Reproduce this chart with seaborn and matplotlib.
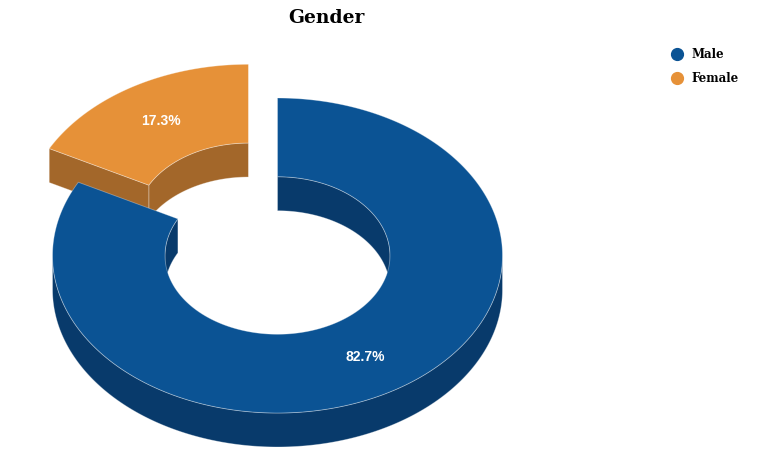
import numpy as np
import matplotlib
matplotlib.use('Agg')
import matplotlib.pyplot as plt
from matplotlib.patches import Polygon
from matplotlib.lines import Line2D
import seaborn as sns

# --- DATA ---
categories = ['Male', 'Female']
shares = [82.7, 17.3]
explode = [0.0, 0.25]

# --- STYLE ---
sns.set_theme(style='white')
top_colors = ['#0b5394', '#e69138']
side_colors = ['#083a6b', '#a3672a']

W, H = 758, 457
fig = plt.figure(figsize=(W / 100, H / 100), dpi=100)
ax = fig.add_axes([0, 0, 1, 1])
ax.set_xlim(0, W)
ax.set_ylim(H, 0)
ax.axis('off')

# donut geometry (pixel space)
cx, cy = 277.5, 255.5
rx, ry = 225.0, 157.5
inner = 0.5
depth = 34


def pt(t, r, ox, oy, dz=0.0):
    return (cx + ox + r * rx * np.cos(t), cy + oy - r * ry * np.sin(t) + dz)


def arc(t_arr, r, ox, oy, dz=0.0):
    return np.array([pt(t, r, ox, oy, dz) for t in t_arr])


def segments(t_arr, mask):
    segs, cur = [], []
    for t, m in zip(t_arr, mask):
        if m:
            cur.append(t)
        elif cur:
            segs.append(cur)
            cur = []
    if cur:
        segs.append(cur)
    return [np.array(s) for s in segs if len(s) > 1]


def wall(ts, r, ox, oy):
    top = arc(ts, r, ox, oy)
    bot = arc(ts[::-1], r, ox, oy, depth)
    return np.vstack([top, bot])


edge_kw = dict(edgecolor=(1, 1, 1, 0.35), linewidth=0.6)

# slice angles, clockwise from 12 o'clock
fracs = np.array(shares) / sum(shares)
starts = np.pi / 2 - np.concatenate([[0], np.cumsum(fracs)[:-1]]) * 2 * np.pi
ends = starts - fracs * 2 * np.pi

order = [1, 0]  # back slice first
label_pos = {}
for i in order:
    a0, a1 = starts[i], ends[i]
    mid = (a0 + a1) / 2
    ox = explode[i] * rx * np.cos(mid)
    oy = -explode[i] * ry * np.sin(mid)
    ts = np.linspace(a1, a0, 600)

    # inner wall (back half of the hole)
    for s in segments(ts, np.sin(ts) > 0):
        ax.add_patch(Polygon(wall(s, inner, ox, oy), closed=True,
                             facecolor=side_colors[i], **edge_kw))
    # cut faces
    for a, n in [(a0, a0 + np.pi / 2), (a1, a1 - np.pi / 2)]:
        if np.sin(n) < -1e-6:
            face = [pt(a, inner, ox, oy), pt(a, 1, ox, oy),
                    pt(a, 1, ox, oy, depth), pt(a, inner, ox, oy, depth)]
            ax.add_patch(Polygon(face, closed=True,
                                 facecolor=side_colors[i], **edge_kw))
    # outer wall (front half)
    for s in segments(ts, np.sin(ts) < 0):
        ax.add_patch(Polygon(wall(s, 1, ox, oy), closed=True,
                             facecolor=side_colors[i], **edge_kw))
    # top face
    top = np.vstack([arc(ts, 1, ox, oy), arc(ts[::-1], inner, ox, oy)])
    ax.add_patch(Polygon(top, closed=True, facecolor=top_colors[i], **edge_kw))

    label_pos[i] = pt(mid, (1 + inner) / 2, ox, oy)

for i, val in enumerate(shares):
    x, y = label_pos[i]
    ax.text(x, y, f'{val:.1f}%', ha='center', va='center', color='white',
            fontsize=10, fontweight='bold', family=['Liberation Sans', 'DejaVu Sans'])

fig.text(326.5 / W, 1 - 18 / H, 'Gender', ha='center', va='center', color='black',
         fontsize=13.5, fontweight='bold', family=['DejaVu Serif'])

handles = [Line2D([], [], linestyle='none', marker='o', markersize=8.5,
                  markerfacecolor=c, markeredgecolor=c) for c in top_colors]
leg = fig.legend(handles, categories, loc='upper left',
                 bbox_to_anchor=(671 / W, 1 - 48 / H), frameon=False,
                 handlelength=1.0, handletextpad=0.75, labelspacing=0.92,
                 borderaxespad=0, borderpad=0,
                 prop={'family': 'DejaVu Serif', 'weight': 'bold', 'size': 8.5})
for t in leg.get_texts():
    t.set_color('black')

fig.savefig('out.png', dpi=100, facecolor='white')
